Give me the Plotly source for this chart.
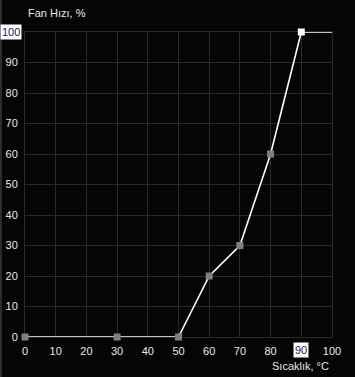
import plotly.graph_objects as go

temps = [0, 30, 50, 60, 70, 80, 90]
fan = [0, 0, 0, 20, 30, 60, 100]
line_x = temps + [100]
line_y = fan + [100]
marker_colors = ["#808080"] * 6 + ["#ffffff"]
tick_vals = [0, 10, 20, 30, 40, 50, 60, 70, 80, 90, 100]
x_text = [str(v) if v != 90 else "" for v in tick_vals]
y_text = [str(v) if v != 100 else "" for v in tick_vals]

FONT = "Liberation Sans, Arial, sans-serif"
TXT = "#e8e8e8"
GRID = "#2a2a2a"

fig = go.Figure()
fig.add_trace(go.Scatter(x=line_x, y=line_y, mode="lines",
                         line=dict(color="#ffffff", width=1.6),
                         hoverinfo="skip", cliponaxis=False))
fig.add_trace(go.Scatter(x=temps, y=fan, mode="markers",
                         marker=dict(symbol="square", size=7, color=marker_colors,
                                     line=dict(width=0)),
                         cliponaxis=False))

axis_common = dict(range=[0, 100], tickvals=tick_vals, showgrid=True, gridcolor=GRID,
                   gridwidth=1, zeroline=False, showline=True, linecolor=GRID, linewidth=1,
                   mirror=True, ticks="", tickfont=dict(family=FONT, size=11, color=TXT),
                   fixedrange=True, automargin=False, layer="below traces")
fig.update_xaxes(**axis_common, ticktext=x_text, ticklabelstandoff=4)
fig.update_yaxes(**axis_common, ticktext=y_text, ticklabelstandoff=4)

fig.add_annotation(xref="paper", yref="y", x=0, y=100, xanchor="right", yanchor="middle",
                   xshift=-3, text="100", showarrow=False, bgcolor="#ffffff",
                   borderpad=1, font=dict(family=FONT, size=11, color="#1a1a60"))
fig.add_annotation(xref="x", yref="paper", x=90, y=0, xanchor="center", yanchor="top",
                   yshift=-5, text="90", showarrow=False, bgcolor="#ffffff",
                   borderpad=1, font=dict(family=FONT, size=11, color="#1a1a60"))
fig.add_annotation(xref="paper", yref="paper", x=0, y=1, xanchor="left", yanchor="bottom",
                   xshift=1, yshift=11, text="Fan Hızı, %", showarrow=False,
                   font=dict(family=FONT, size=11, color=TXT))
fig.add_annotation(xref="paper", yref="paper", x=1, y=0, xanchor="right", yanchor="top",
                   xshift=-1, yshift=-21, text="Sıcaklık, °C", showarrow=False,
                   font=dict(family=FONT, size=11, color=TXT))

fig.add_shape(type="line", xref="paper", yref="paper", x0=-24/307, x1=-24/307,
              y0=-0.14, y1=1.12, line=dict(color="#3a3a3a", width=1.5))

fig.update_layout(width=355, height=377, margin=dict(l=25, r=23, t=32, b=40),
                  paper_bgcolor="#050505", plot_bgcolor="#050505", showlegend=False)

fig.write_html("out.html", config={"displayModeBar": False})
